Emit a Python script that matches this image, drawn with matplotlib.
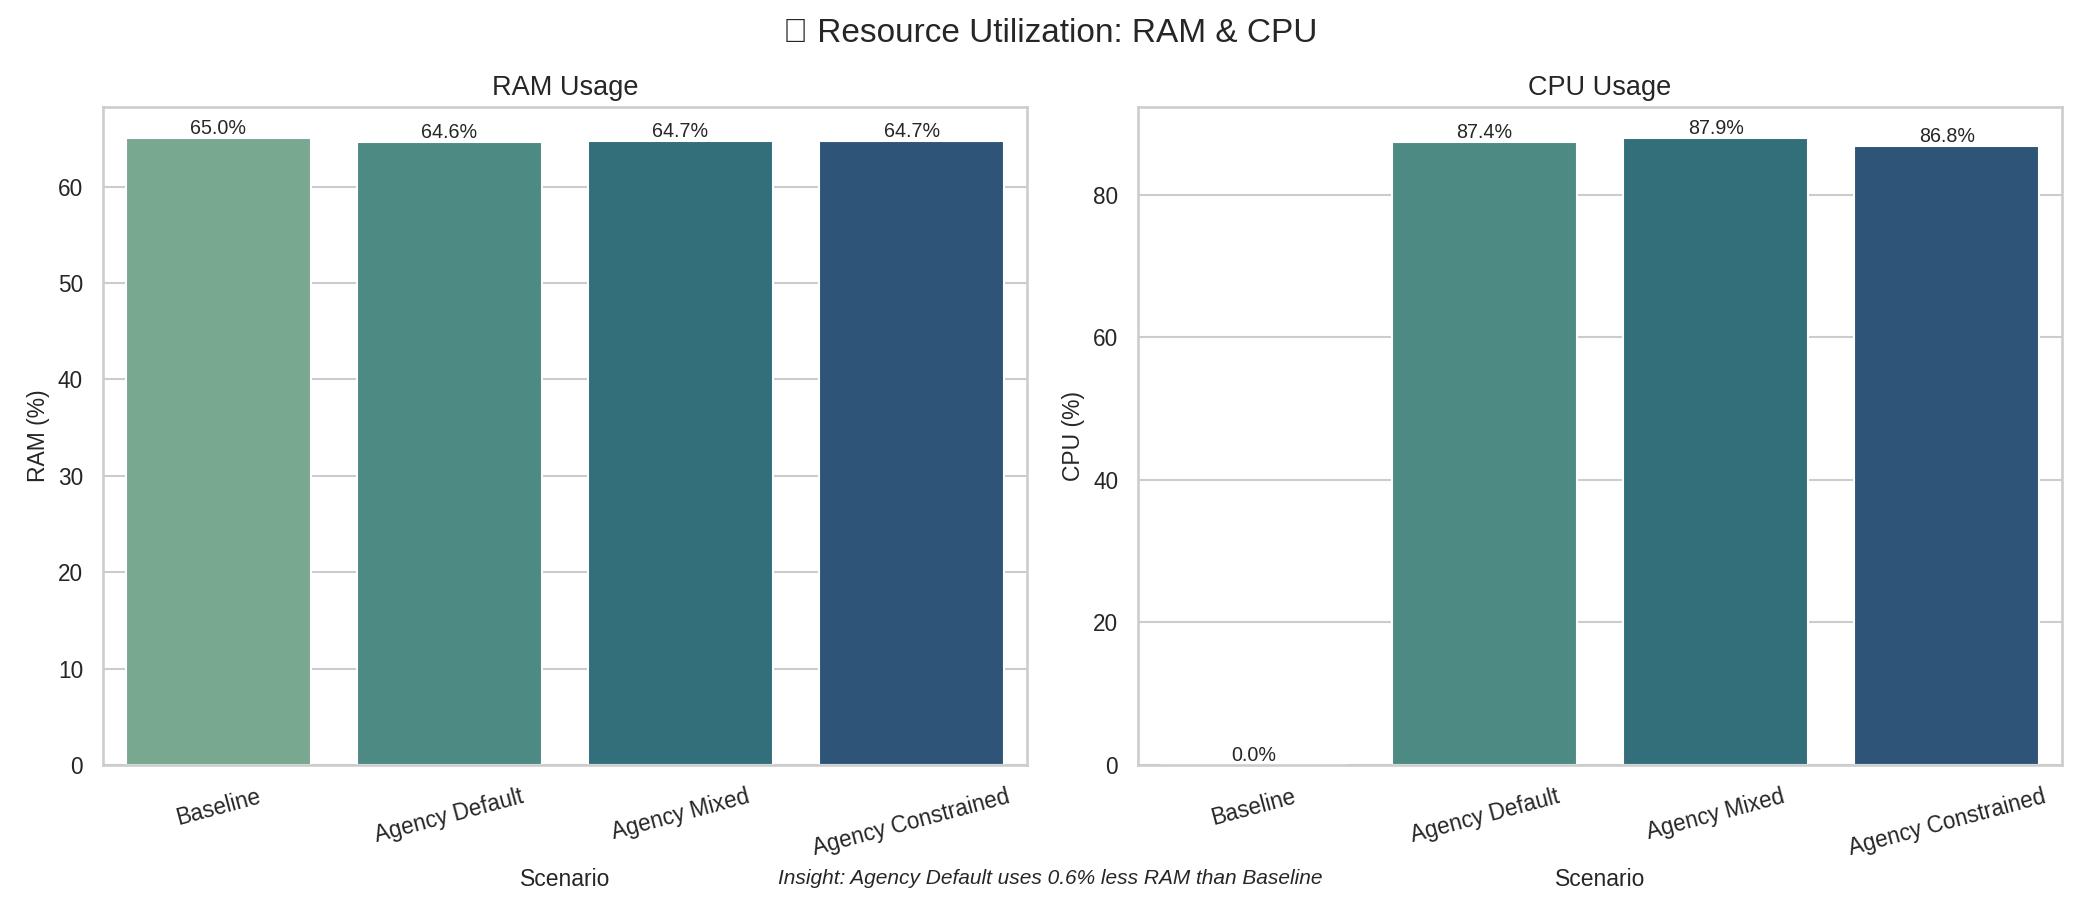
import matplotlib
matplotlib.use('Agg')
import matplotlib.pyplot as plt
import seaborn as sns
import pandas as pd

scenarios = ['Baseline', 'Agency Default', 'Agency Mixed', 'Agency Constrained']
ram_pct = [65.0, 64.6, 64.7, 64.7]
cpu_pct = [0.0, 87.4, 87.9, 86.8]
colors = ['#78a890', '#4e8a84', '#336e7b', '#2e5577']

sns.set_theme(style='whitegrid')
plt.rcParams['font.family'] = ['Liberation Sans', 'DejaVu Sans']

df = pd.DataFrame({'Scenario': scenarios, 'RAM': ram_pct, 'CPU': cpu_pct})

fig, axes = plt.subplots(1, 2, figsize=(14, 6), dpi=150)

for ax, col, title, ylabel in [(axes[0], 'RAM', 'RAM Usage', 'RAM (%)'),
                               (axes[1], 'CPU', 'CPU Usage', 'CPU (%)')]:
    sns.barplot(data=df, x='Scenario', y=col, hue='Scenario', palette=colors,
                saturation=1, legend=False, ax=ax)
    ax.set_title(title, fontsize=13)
    ax.set_xlabel('Scenario', fontsize=11)
    ax.set_ylabel(ylabel, fontsize=11)
    ax.tick_params(axis='both', labelsize=10.8)
    ax.tick_params(axis='x', rotation=15)
    ax.xaxis.grid(False)
    for c in ax.containers:
        ax.bar_label(c, fmt='%.1f%%', fontsize=9.5)

fig.suptitle('\U0001F4CA Resource Utilization: RAM & CPU', fontsize=16, y=0.98)
fig.text(0.5, 0.018, 'Insight: Agency Default uses 0.6% less RAM than Baseline',
         ha='center', fontsize=10, style='italic')
fig.subplots_adjust(left=0.049, right=0.982, top=0.881, bottom=0.15, wspace=0.12)
fig.savefig('out.png')
